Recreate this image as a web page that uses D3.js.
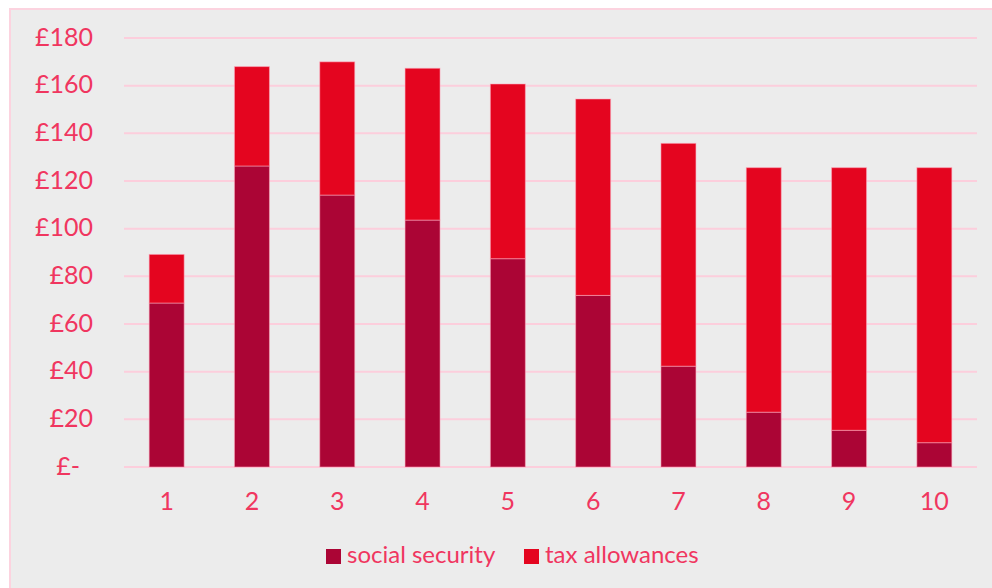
<!DOCTYPE html>
<html>
<head>
<meta charset="utf-8">
<script src="https://cdn.jsdelivr.net/npm/d3@7"></script>
<style>
  body { margin: 0; background: #fff; }
  svg text { font-family: Lato, "Open Sans", sans-serif; fill: #f0365f; }
</style>
</head>
<body>
<script>
var deciles = ['1', '2', '3', '4', '5', '6', '7', '8', '9', '10'];
var socialSecurity = [68.8, 126.3, 114.1, 103.6, 87.4, 72.0, 42.3, 23.0, 15.4, 10.2];
var taxAllowances = [20.4, 41.7, 55.9, 63.7, 73.3, 82.4, 93.5, 102.6, 110.2, 115.4];
var seriesNames = ['social security', 'tax allowances'];
var yTicks = [0, 20, 40, 60, 80, 100, 120, 140, 160, 180];

var width = 992, height = 588;
var margin = { left: 124, right: 15, top: 38, bottom: 121 };
var colors = ['#ab0535', '#e4051f'];

var svg = d3.select('body').append('svg').attr('width', width).attr('height', height);

// chart area background + border
svg.append('rect')
    .attr('x', 10).attr('y', 9)
    .attr('width', width).attr('height', height)
    .attr('fill', '#ececec')
    .attr('stroke', '#fcd3df').attr('stroke-width', 2);

var x = d3.scaleBand().domain(deciles)
    .range([margin.left, width - margin.right])
    .paddingInner(0.59).paddingOuter(0.295);
var y = d3.scaleLinear().domain([0, 180]).range([height - margin.bottom, margin.top]);

// gridlines
svg.append('g').selectAll('line')
    .data(yTicks).join('line')
    .attr('x1', margin.left).attr('x2', width - margin.right)
    .attr('y1', function(d) { return y(d); })
    .attr('y2', function(d) { return y(d); })
    .attr('stroke', '#fccedc').attr('stroke-width', 2);

// y labels
var yAxis = d3.axisLeft(y).tickValues(yTicks).tickSize(0).tickPadding(31)
    .tickFormat(function(d) { return d === 0 ? '£-' : '£' + d; });
var yg = svg.append('g').attr('transform', 'translate(' + margin.left + ',0)').call(yAxis);
yg.select('.domain').remove();
yg.selectAll('text')
    .attr('font-size', 25).attr('font-family', null).attr('fill', null)
    .attr('dy', '0.28em')
    .attr('x', function(d) { return d === 0 ? -44 : -31; });

// stacked bars
var rows = deciles.map(function(d, i) {
    return { decile: d, social: socialSecurity[i], tax: taxAllowances[i] };
});
var stack = d3.stack().keys(['social', 'tax'])(rows);

svg.append('g').selectAll('g')
    .data(stack).join('g')
    .attr('fill', function(d, i) { return colors[i]; })
    .selectAll('rect')
    .data(function(d) { return d; }).join('rect')
    .attr('x', function(d) { return x(d.data.decile); })
    .attr('width', x.bandwidth())
    .attr('y', function(d) { return y(d[1]); })
    .attr('height', function(d) { return y(d[0]) - y(d[1]); })
    .attr('stroke', 'rgba(255,170,190,0.55)').attr('stroke-width', 1);

// x labels
var xAxis = d3.axisBottom(x).tickSize(0).tickPadding(25);
var xg = svg.append('g').attr('transform', 'translate(0,' + y(0) + ')').call(xAxis);
xg.select('.domain').remove();
xg.selectAll('text').attr('font-size', 25).attr('font-family', null).attr('fill', null);

// legend
var legendX = [326, 524];
var legend = svg.append('g').selectAll('g')
    .data(seriesNames).join('g')
    .attr('transform', function(d, i) { return 'translate(' + legendX[i] + ',549)'; });
legend.append('rect').attr('width', 15).attr('height', 15)
    .attr('fill', function(d, i) { return colors[i]; });
legend.append('text').attr('x', 21).attr('y', 14)
    .attr('font-size', 24)
    .text(function(d) { return d; });
</script>
</body>
</html>
